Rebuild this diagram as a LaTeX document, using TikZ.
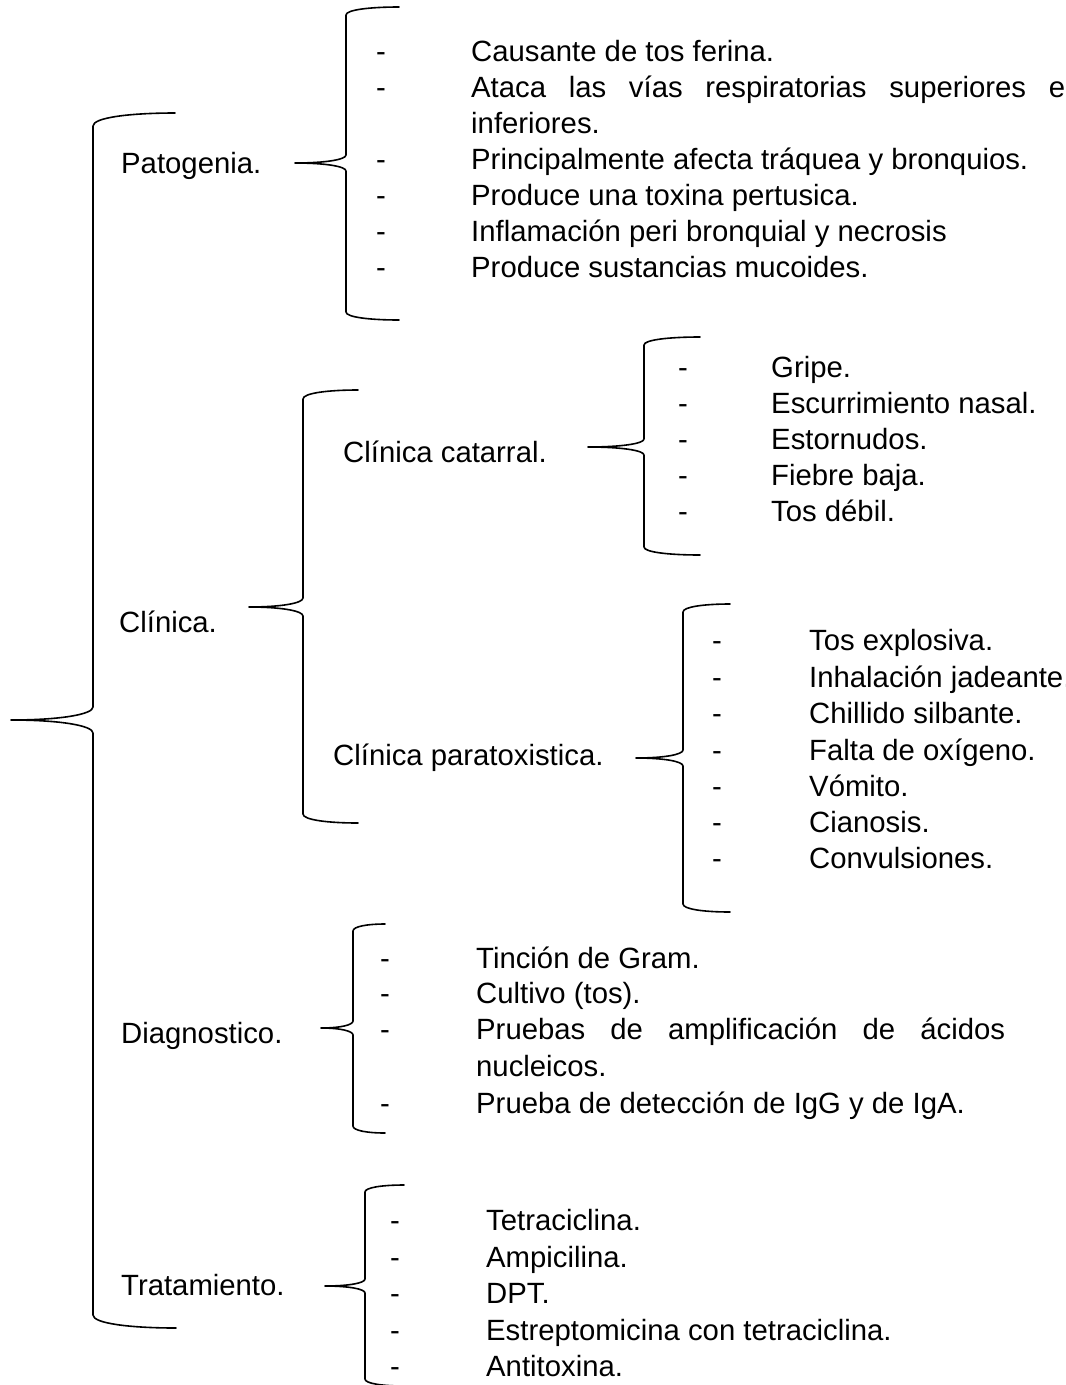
\documentclass[tikz,border=0pt]{standalone}
\usepackage{fontspec}
\setmainfont{Liberation Sans}
% #1 vertical x, #2 top y, #3 top end x, #4 tip x, #5 middle y, #6 bottom y, #7 bottom end x, #8 corner size
\newcommand\drawbrace[8]{%
  \draw[bracestyle] (#3,#2)
    .. controls ({#1+0.45*(#3-#1)},#2) and (#1,{#2+0.35*#8}) .. (#1,{#2+#8})
    -- (#1,{#5-#8})
    .. controls (#1,{#5-0.43*#8}) and ({#1-0.4*(#1-#4)},#5) .. (#4,#5)
    .. controls ({#1-0.4*(#1-#4)},#5) and (#1,{#5+0.43*#8}) .. (#1,{#5+#8})
    -- (#1,{#6-#8})
    .. controls (#1,{#6-0.35*#8}) and ({#1+0.45*(#7-#1)},#6) .. (#7,#6);
}
\begin{document}
\begin{tikzpicture}[x=1pt,y=-1pt,
  bracestyle/.style={line width=1.6pt, line join=round, line cap=round},
  lbl/.style={anchor=base west, inner sep=0pt, font=\fontsize{29.3}{35}\selectfont},
  hyph/.style={anchor=base, inner sep=0pt, font=\fontsize{29.3}{35}\selectfont}]
\useasboundingbox (0,0) rectangle (1066,1385);

% ---------- braces ----------
\drawbrace{93}{113}{175}{11}{720}{1328}{176}{13}   % main
\drawbrace{346}{7}{399}{295}{163}{320}{399}{8}     % Patogenia
\drawbrace{303}{390}{358}{249}{607}{823}{358}{9}   % Clinica
\drawbrace{644}{337}{700}{588}{447}{555}{700}{8}   % catarral
\drawbrace{683}{604}{730}{636}{758}{912}{730}{8}   % paratoxistica
\drawbrace{353}{924}{385}{321}{1028}{1133}{385}{7} % Diagnostico
\drawbrace{365}{1185}{404}{325}{1286}{1386}{404}{7}% Tratamiento

% ---------- headings ----------
\node[lbl] (pat)  at (121,173)  {Patogenia.};
\node[lbl] (cli)  at (119,632)  {Clínica.};
\node[lbl] (cat)  at (343,462)  {Clínica catarral.};
\node[lbl] (par)  at (333,765)  {Clínica paratoxistica.};
\node[lbl] (dia)  at (121,1043) {Diagnostico.};
\node[lbl] (tra)  at (121,1295) {Tratamiento.};

% ---------- Patogenia items ----------
\node[hyph] (pd1) at (381,61)  {-};
\node[hyph] (pd2) at (381,97)  {-};
\node[hyph] (pd4) at (381,169) {-};
\node[hyph] (pd5) at (381,205) {-};
\node[hyph] (pd6) at (381,241) {-};
\node[hyph] (pd7) at (381,277) {-};
\node[lbl] (p1) at (471,61)  {Causante de tos ferina.};
\node[lbl] (p2) at (471,97)  {\makebox[594pt][s]{Ataca las vías respiratorias superiores e}};
\node[lbl] (p3) at (471,133) {inferiores.};
\node[lbl] (p4) at (471,169) {Principalmente afecta tráquea y bronquios.};
\node[lbl] (p5) at (471,205) {Produce una toxina pertusica.};
\node[lbl] (p6) at (471,241) {Inflamación peri bronquial y necrosis};
\node[lbl] (p7) at (471,277) {Produce sustancias mucoides.};

% ---------- Clinica catarral items ----------
\node[hyph] (cd1) at (683,377) {-};
\node[hyph] (cd2) at (683,413) {-};
\node[hyph] (cd3) at (683,449) {-};
\node[hyph] (cd4) at (683,485) {-};
\node[hyph] (cd5) at (683,521) {-};
\node[lbl] (c1) at (771,377) {Gripe.};
\node[lbl] (c2) at (771,413) {Escurrimiento nasal.};
\node[lbl] (c3) at (771,449) {Estornudos.};
\node[lbl] (c4) at (771,485) {Fiebre baja.};
\node[lbl] (c5) at (771,521) {Tos débil.};

% ---------- Clinica paratoxistica items ----------
\node[hyph] (xd1) at (717,650) {-};
\node[hyph] (xd2) at (717,687) {-};
\node[hyph] (xd3) at (717,723) {-};
\node[hyph] (xd4) at (717,760) {-};
\node[hyph] (xd5) at (717,796) {-};
\node[hyph] (xd6) at (717,832) {-};
\node[hyph] (xd7) at (717,868) {-};
\node[lbl] (x1) at (809,650) {Tos explosiva.};
\node[lbl] (x2) at (809,687) {Inhalación jadeante.};
\node[lbl] (x3) at (809,723) {Chillido silbante.};
\node[lbl] (x4) at (809,760) {Falta de oxígeno.};
\node[lbl] (x5) at (809,796) {Vómito.};
\node[lbl] (x6) at (809,832) {Cianosis.};
\node[lbl] (x7) at (809,868) {Convulsiones.};

% ---------- Diagnostico items ----------
\node[hyph] (dd1) at (385,968)  {-};
\node[hyph] (dd2) at (385,1003) {-};
\node[hyph] (dd3) at (385,1039) {-};
\node[hyph] (dd5) at (385,1113) {-};
\node[lbl] (d1) at (476,968)  {Tinción de Gram.};
\node[lbl] (d2) at (476,1003) {Cultivo (tos).};
\node[lbl] (d3) at (476,1039) {\makebox[529pt][s]{Pruebas de amplificación de ácidos}};
\node[lbl] (d4) at (476,1076) {nucleicos.};
\node[lbl] (d5) at (476,1113) {Prueba de detección de IgG y de IgA.};

% ---------- Tratamiento items ----------
\node[hyph] (td1) at (395,1230) {-};
\node[hyph] (td2) at (395,1267) {-};
\node[hyph] (td3) at (395,1303) {-};
\node[hyph] (td4) at (395,1340) {-};
\node[hyph] (td5) at (395,1376) {-};
\node[lbl] (t1) at (486,1230) {Tetraciclina.};
\node[lbl] (t2) at (486,1267) {Ampicilina.};
\node[lbl] (t3) at (486,1303) {DPT.};
\node[lbl] (t4) at (486,1340) {Estreptomicina con tetraciclina.};
\node[lbl] (t5) at (486,1376) {Antitoxina.};
\end{tikzpicture}
\end{document}
